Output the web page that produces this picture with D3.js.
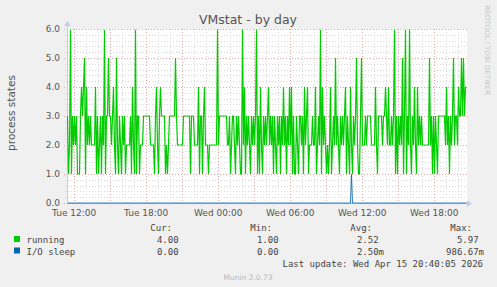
<!DOCTYPE html>
<html>
<head>
<meta charset="utf-8">
<script src="https://cdn.jsdelivr.net/npm/d3@7"></script>
<style>
  body { margin: 0; background: #f0f0f0; }
  svg { display: block; }
  .axis text { font-family: "DejaVu Sans", sans-serif; font-size: 9px; fill: #555; }
  .legend text { font-family: "DejaVu Sans Mono", monospace; font-size: 9px; fill: #444; white-space: pre; }
</style>
</head>
<body>
<div id="chart"></div>
<script>
// running processes, one sample per 5 minutes
var runningVals = [
  3,1,2,5.97,1,3,2,3,2,3,1,1,1,3,4,3,4,5,1,4,
  2,3,2,3,2,2,2,2,4,1,3,1,2,3,1,3,2,5.97,1,3,
  3,5,3,3,2,3,4,2,1,5,2,1,3,2,1,3,2,3,1,2,
  2,2,2,3,1,4,2,1,5.97,1,3,3,1,2,2,2,3,3,3,3,
  3,3,3,2,2,2,2,1,3,4,2,1,3,4,3,3,3,3,1,2,
  1,2,3,3,3,3,3,3,5,3,2,2,2,2,2,2,3,3,3,3,
  3,3,3,1,3,3,3,2,2,2,2,4,1,3,3,1,3,4,2,2,
  2,1,2,2,2,2,2,2,2,2,5.97,2,3,3,3,3,3,3,3,3,
  2,2,3,1,2,3,3,2,1,3,2,3,2,1,1,5.97,2,4,1,3,
  2,3,2,1,3,2,3,2,3,5.97,1,3,1,4,2,1,3,2,3,2,
  3,4,2,3,2,3,1,3,2,1,3,2,3,1,3,2,4,2,3,1,
  3,2,4,2,4,1,3,1,1,3,2,1,3,3,2,3,1,4,2,3,
  4,1,2,2,2,3,2,2,4,1,2,3,2,5.97,1,4,2,3,2,1,
  2,1,2,4,1,2,3,2,5,2,3,2,1,3,2,3,2,3,4,1,
  3,2,1,4,2,1,3,2,3,5,2,1,1,3,5,2,2,2,3,2,
  3,3,3,3,2,2,2,2,4,2,1,3,3,3,3,2,3,3,4,3,
  2,4,2,2,3,2,3,5.97,1,3,1,3,2,3,2,5,1,3,5.97,1,
  3,2,5.97,2,1,3,2,4,2,1,4,2,3,2,3,2,2,2,2,2,
  2,2,5,2,3,1,3,1,3,2,1,3,3,3,3,3,3,3,2,4,
  2,3,1,3,2,3,5,2,3,3,2,4,3,3,5,3,5,3,4,4
];

// I/O sleep, same samples
var ioSleepVals = [
  0,0,0,0,0,0,0,0,0,0,0,0,0,0,0,0,0,0,0,0,
  0,0,0,0,0,0,0,0,0,0,0,0,0,0,0,0,0,0,0,0,
  0,0,0,0,0,0,0,0,0,0,0,0,0,0,0,0,0,0,0,0,
  0,0,0,0,0,0,0,0,0,0,0,0,0,0,0,0,0,0,0,0,
  0,0,0,0,0,0,0,0,0,0,0,0,0,0,0,0,0,0,0,0,
  0,0,0,0,0,0,0,0,0,0,0,0,0,0,0,0,0,0,0,0,
  0,0,0,0,0,0,0,0,0,0,0,0,0,0,0,0,0,0,0,0,
  0,0,0,0,0,0,0,0,0,0,0,0,0,0,0,0,0,0,0,0,
  0,0,0,0,0,0,0,0,0,0,0,0,0,0,0,0,0,0,0,0,
  0,0,0,0,0,0,0,0,0,0,0,0,0,0,0,0,0,0,0,0,
  0,0,0,0,0,0,0,0,0,0,0,0,0,0,0,0,0,0,0,0,
  0,0,0,0,0,0,0,0,0,0,0,0,0,0,0,0,0,0,0,0,
  0,0,0,0,0,0,0,0,0,0,0,0,0,0,0,0,0,0,0,0,
  0,0,0,0,0,0,0,0,0,0,0,0,0,0,0,0,0,0,0,0,
  0,0,0,0,0.98667,0,0,0,0,0,0,0,0,0,0,0,0,0,0,0,
  0,0,0,0,0,0,0,0,0,0,0,0,0,0,0,0,0,0,0,0,
  0,0,0,0,0,0,0,0,0,0,0,0,0,0,0,0,0,0,0,0,
  0,0,0,0,0,0,0,0,0,0,0,0,0,0,0,0,0,0,0,0,
  0,0,0,0,0,0,0,0,0,0,0,0,0,0,0,0,0,0,0,0,
  0,0,0,0,0,0,0,0,0,0,0,0,0,0,0,0,0,0,0,0
];

var seriesNames = ["running", "I/O sleep"];
var seriesColors = ["#00cc00", "#0066b3"];
var curVals = ["4.00 ", "0.00 "];
var minVals = ["1.00 ", "0.00 "];
var avgVals = ["2.52 ", "2.50m"];
var maxVals = ["5.97 ", "986.67m"];
var yTicks = [0, 1, 2, 3, 4, 5, 6];

var W = 497, H = 287;
var plot = {left: 67, right: 467, top: 29, bottom: 203};

var t0 = new Date(Date.UTC(2026, 3, 14, 11, 26, 30));
var step = 5 * 60 * 1000;
var t1 = new Date(t0.getTime() + runningVals.length * step);

var x = d3.scaleUtc().domain([t0, t1]).range([plot.left, plot.right]);
var y = d3.scaleLinear().domain([0, 6]).range([plot.bottom, plot.top]);

var svg = d3.select("#chart").append("svg")
    .attr("width", W).attr("height", H);

svg.append("rect").attr("width", W).attr("height", H).attr("fill", "#f0f0f0");
svg.append("rect")
    .attr("x", plot.left).attr("y", plot.top)
    .attr("width", plot.right - plot.left).attr("height", plot.bottom - plot.top)
    .attr("fill", "#ffffff");

// grid: minor every 0.2 / 1h, major every 1.0 / 3h
var g = svg.append("g");
y.ticks(30).forEach(function(v) {
    var major = Math.abs(v - Math.round(v)) < 1e-6;
    g.append("line")
        .attr("x1", plot.left - (major ? 3 : 2)).attr("x2", plot.right)
        .attr("y1", Math.round(y(v)) + 0.5).attr("y2", Math.round(y(v)) + 0.5)
        .attr("stroke", major ? "#e8a8a8" : "#d8d8d8")
        .attr("stroke-dasharray", "1,2");
});
d3.utcHour.range(d3.utcHour.ceil(t0), t1).forEach(function(t) {
    var major = t.getUTCHours() % 3 === 0;
    g.append("line")
        .attr("x1", Math.round(x(t)) + 0.5).attr("x2", Math.round(x(t)) + 0.5)
        .attr("y1", plot.top).attr("y2", plot.bottom + (major ? 3 : 2))
        .attr("stroke", major ? "#e8a8a8" : "#d8d8d8")
        .attr("stroke-dasharray", "1,2");
});

// axes (labels only)
var fmt = d3.utcFormat("%a %H:%M");
svg.append("g").attr("class", "axis")
    .attr("transform", "translate(0," + (plot.bottom + 1) + ")")
    .call(d3.axisBottom(x).tickValues(d3.utcHour.every(6).range(t0, t1)).tickFormat(fmt).tickSize(0).tickPadding(5.5))
    .call(function(a) { a.select(".domain").remove(); });

svg.append("g").attr("class", "axis")
    .attr("transform", "translate(" + (plot.left - 4) + ",0)")
    .call(d3.axisLeft(y).tickValues(yTicks).tickFormat(d3.format(".1f")).tickSize(0).tickPadding(3))
    .call(function(a) { a.select(".domain").remove(); });

// axis lines + arrows
svg.append("line").attr("x1", plot.left + 0.5).attr("x2", plot.left + 0.5)
    .attr("y1", plot.bottom).attr("y2", plot.top - 4).attr("stroke", "#c4cdef");
svg.append("path").attr("d", "M64,26 L71,26 L67.5,21 Z").attr("fill", "#c4cdef");
svg.append("line").attr("x1", plot.left).attr("x2", plot.right + 2)
    .attr("y1", plot.bottom + 0.5).attr("y2", plot.bottom + 0.5).attr("stroke", "#a9b9ea");
svg.append("path").attr("d", "M467,200 L467,207 L472,203.5 Z").attr("fill", "#c4cdef");

// series
var line = d3.line()
    .x(function(d, i) { return x(new Date(t0.getTime() + i * step + step / 2)); })
    .y(function(d) { return y(d); });

svg.append("path").datum(runningVals)
    .attr("fill", "none").attr("stroke", seriesColors[0]).attr("stroke-width", 1.2)
    .attr("d", line);
svg.append("path").datum(ioSleepVals)
    .attr("fill", "none").attr("stroke", seriesColors[1]).attr("stroke-width", 1)
    .attr("stroke-opacity", 0.85)
    .attr("d", line);

// titles
svg.append("text").attr("x", 248).attr("y", 24).attr("text-anchor", "middle")
    .attr("font-family", "DejaVu Sans, sans-serif").attr("font-size", "12.5px").attr("fill", "#555")
    .text("VMstat - by day");
svg.append("text").attr("transform", "translate(15,113) rotate(-90)").attr("text-anchor", "middle")
    .attr("font-family", "DejaVu Sans, sans-serif").attr("font-size", "10.5px").attr("fill", "#555")
    .text("process states");
svg.append("text").attr("transform", "translate(485,5) rotate(90)")
    .attr("font-family", "DejaVu Sans, sans-serif").attr("font-size", "7px").attr("fill", "#c8c8c8")
    .text("RRDTOOL / TOBI OETIKER");

// legend
var lg = svg.append("g").attr("class", "legend");
var cols = [184, 284, 384, 484];
var heads = ["Cur:", "Min:", "Avg:", "Max:"];
heads.forEach(function(h, k) {
    lg.append("text").attr("x", cols[k] - 12).attr("y", 231).attr("text-anchor", "end").text(h);
});
seriesNames.forEach(function(name, i) {
    var yy = 243 + i * 11.5;
    lg.append("rect").attr("x", 14).attr("y", yy - 7).attr("width", 6).attr("height", 6).attr("fill", seriesColors[i]);
    lg.append("text").attr("x", 26.5).attr("y", yy).text(name);
    [curVals, minVals, avgVals, maxVals].forEach(function(arr, k) {
        lg.append("text").attr("x", cols[k]).attr("y", yy).attr("text-anchor", "end").text(arr[i]);
    });
});
lg.append("text").attr("x", 483).attr("y", 266.5).attr("text-anchor", "end")
    .text("Last update: Wed Apr 15 20:40:05 2026");
svg.append("text").attr("x", 248).attr("y", 280).attr("text-anchor", "middle")
    .attr("font-family", "DejaVu Sans, sans-serif").attr("font-size", "7.5px").attr("fill", "#bbb")
    .text("Munin 2.0.73");
</script>
</body>
</html>
